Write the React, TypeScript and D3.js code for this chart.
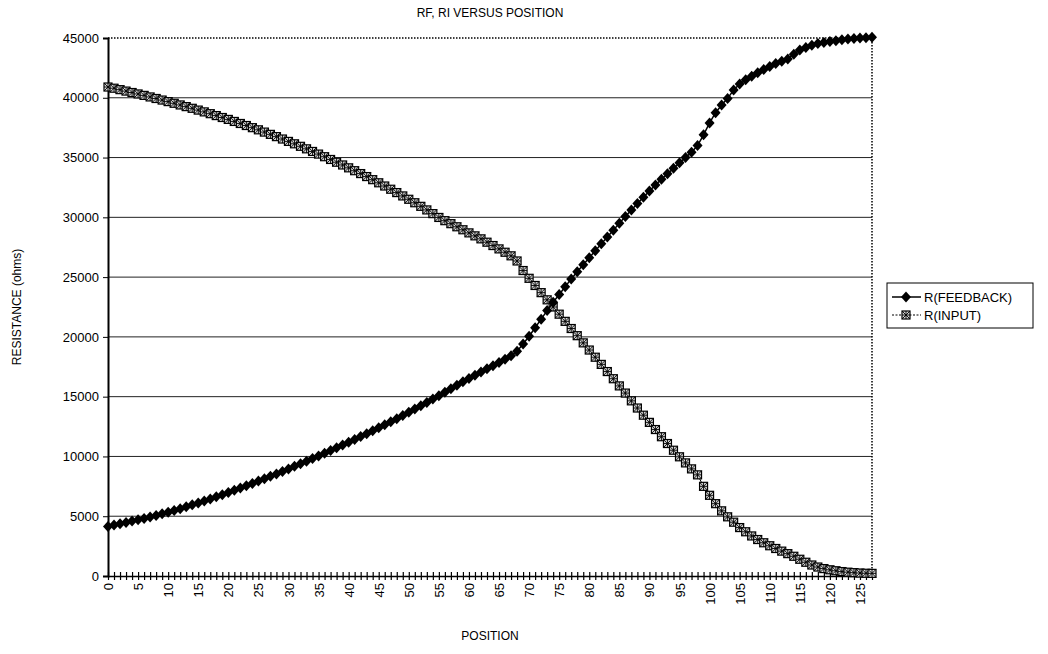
import * as React from 'react';
import * as d3 from 'd3';

const chartTitle = 'RF, RI VERSUS POSITION';
const xTitle = 'POSITION';
const yTitle = 'RESISTANCE (ohms)';
const seriesNames = ['R(FEEDBACK)', 'R(INPUT)'];
const yTicks = [0, 5000, 10000, 15000, 20000, 25000, 30000, 35000, 40000, 45000];

// R(FEEDBACK), one value per position 0..127
const feedback = [
    4150, 4260, 4370, 4480, 4590, 4700, 4810, 4940, 5070, 5200,
    5340, 5480, 5630, 5790, 5950, 6110, 6280, 6450, 6620, 6800,
    6980, 7170, 7360, 7550, 7740, 7940, 8140, 8340, 8540, 8750,
    8960, 9170, 9380, 9600, 9820, 10040, 10270, 10500, 10730, 10960,
    11190, 11420, 11660, 11900, 12150, 12400, 12650, 12900, 13150, 13420,
    13690, 13960, 14240, 14520, 14800, 15080, 15370, 15660, 15950, 16240,
    16520, 16790, 17060, 17330, 17590, 17850, 18130, 18420, 18800, 19400,
    20050, 20760, 21480, 22200, 22900, 23550, 24200, 24850, 25450, 26030,
    26620, 27200, 27780, 28360, 28920, 29500, 30070, 30620, 31150, 31680,
    32200, 32700, 33180, 33650, 34100, 34560, 35000, 35450, 36000, 36900,
    37900, 38750, 39400, 39950, 40650, 41150, 41500, 41800, 42100, 42370,
    42620, 42870, 43050, 43250, 43650, 44000, 44200, 44400, 44530, 44620,
    44700, 44780, 44850, 44910, 44960, 45000, 45030, 45060
];

// R(INPUT), one value per position 0..127
const input = [
    40900, 40800, 40680, 40560, 40440, 40320, 40200, 40070, 39940, 39810,
    39680, 39540, 39400, 39260, 39120, 38970, 38820, 38670, 38510, 38350,
    38190, 38020, 37850, 37680, 37500, 37320, 37130, 36940, 36750, 36550,
    36350, 36150, 35940, 35730, 35510, 35290, 35070, 34840, 34610, 34380,
    34140, 33900, 33660, 33410, 33150, 32890, 32620, 32350, 32070, 31790,
    31510, 31220, 30920, 30620, 30310, 29990, 29720, 29470, 29210, 28960,
    28700, 28450, 28200, 27920, 27640, 27360, 27080, 26780, 26350, 25550,
    24900, 24300, 23700, 23100, 22500, 21900, 21300, 20700, 20100, 19500,
    18900, 18300, 17700, 17100, 16500, 15900, 15300, 14650, 14050, 13450,
    12850, 12250, 11650, 11080, 10520, 9970, 9460, 8960, 8460, 7500,
    6750, 6050, 5450, 4950, 4500, 4050, 3700, 3350, 3050, 2780,
    2530, 2300, 2080, 1870, 1650, 1400, 1150, 920, 750, 620,
    520, 440, 370, 320, 280, 250, 230, 220
];

const W = 1048;
const H = 654;
const plot = { left: 108, right: 872, top: 38, bottom: 576 };
const font = '"Liberation Sans", Arial, sans-serif';

function drawDiamond(g: d3.Selection<any, any, any, any>, cx: number, cy: number) {
    g.append('path')
        .attr('d', `M${cx},${cy - 5.5}L${cx + 5},${cy}L${cx},${cy + 5.5}L${cx - 5},${cy}Z`)
        .attr('fill', '#000');
}

function drawHatch(g: d3.Selection<any, any, any, any>, cx: number, cy: number) {
    const m = g.append('g').attr('transform', `translate(${cx},${cy})`);
    m.append('rect')
        .attr('x', -4).attr('y', -4).attr('width', 8).attr('height', 8)
        .attr('fill', '#d8d8d8').attr('stroke', '#000').attr('stroke-width', 1.2);
    m.append('path')
        .attr('d', 'M-4,-4L4,4M-4,4L4,-4M0,-4V4M-4,0H4')
        .attr('stroke', '#000').attr('stroke-width', 0.9);
}

export default function App() {
    const ref = React.useRef<SVGSVGElement | null>(null);

    React.useEffect(() => {
        const svg = d3.select(ref.current);
        svg.selectAll('*').remove();

        const positions = feedback.map((_, i) => i);
        const x = d3.scaleLinear().domain([0, 127]).range([plot.left, plot.right]);
        const y = d3.scaleLinear().domain([0, 45000]).range([plot.bottom, plot.top]);

        // grid lines
        svg.append('g')
            .selectAll('line')
            .data(yTicks.filter(v => v > 0 && v < 45000))
            .enter()
            .append('line')
            .attr('x1', plot.left).attr('x2', plot.right)
            .attr('y1', d => y(d)).attr('y2', d => y(d))
            .attr('stroke', '#222').attr('stroke-width', 1);

        // dotted frame top / right
        svg.append('path')
            .attr('d', `M${plot.left},${y(45000)}H${plot.right}V${plot.bottom}`)
            .attr('fill', 'none').attr('stroke', '#000')
            .attr('stroke-width', 1.5).attr('stroke-dasharray', '1.5,1.5');

        // y axis
        const yAxis = svg.append('g')
            .attr('transform', `translate(${plot.left},0)`)
            .call(d3.axisLeft(y).tickValues(yTicks).tickSize(5).tickFormat(d3.format('d')));
        yAxis.select('.domain').attr('stroke-width', 2);
        yAxis.selectAll('text')
            .attr('font-family', font).attr('font-size', 13).attr('fill', '#000')
            .attr('x', -9);

        // x axis: tick at every position, crossing the axis line
        const xAxis = svg.append('g')
            .attr('transform', `translate(0,${plot.bottom})`)
            .call(d3.axisBottom(x).tickValues(positions).tickSize(4).tickSizeOuter(0).tickFormat(() => ''));
        xAxis.select('.domain').attr('stroke-width', 1.5);
        xAxis.selectAll('.tick line').attr('y1', -4).attr('stroke-width', 1.2);

        const xLabels = svg.append('g')
            .attr('transform', `translate(0,${plot.bottom})`)
            .call(d3.axisBottom(x).tickValues(positions.filter(p => p % 5 === 0)).tickSize(0));
        xLabels.select('.domain').remove();
        xLabels.selectAll('text')
            .attr('font-family', font).attr('font-size', 13).attr('fill', '#000')
            .attr('transform', 'rotate(-90)')
            .attr('text-anchor', 'end')
            .attr('dy', '0.35em')
            .attr('x', -7).attr('y', 0);

        // series
        const line = d3.line<number>().x((_, i) => x(i)).y(d => y(d));

        svg.append('path')
            .datum(input)
            .attr('d', line)
            .attr('fill', 'none').attr('stroke', '#000').attr('stroke-width', 1);
        const inputMarks = svg.append('g');
        input.forEach((v, i) => drawHatch(inputMarks, x(i), y(v)));

        svg.append('path')
            .datum(feedback)
            .attr('d', line)
            .attr('fill', 'none').attr('stroke', '#000').attr('stroke-width', 1.5);
        const fbMarks = svg.append('g');
        feedback.forEach((v, i) => drawDiamond(fbMarks, x(i), y(v)));

        // titles
        svg.append('text')
            .attr('x', 490).attr('y', 17).attr('text-anchor', 'middle')
            .attr('font-family', font).attr('font-size', 12).text(chartTitle);
        svg.append('text')
            .attr('x', 490).attr('y', 640).attr('text-anchor', 'middle')
            .attr('font-family', font).attr('font-size', 12).text(xTitle);
        svg.append('text')
            .attr('transform', `translate(21,${(plot.top + plot.bottom) / 2}) rotate(-90)`)
            .attr('text-anchor', 'middle')
            .attr('font-family', font).attr('font-size', 12).text(yTitle);

        // legend
        const lg = svg.append('g');
        lg.append('rect')
            .attr('x', 887).attr('y', 283).attr('width', 146).attr('height', 45)
            .attr('fill', '#fff').attr('stroke', '#000').attr('stroke-width', 1);
        const rows = [297, 315];
        rows.forEach((ry, i) => {
            lg.append('line')
                .attr('x1', 892).attr('x2', 921).attr('y1', ry).attr('y2', ry)
                .attr('stroke', '#000').attr('stroke-width', i === 0 ? 1.5 : 1)
                .attr('stroke-dasharray', i === 0 ? null : '2,1.5');
            if (i === 0) drawDiamond(lg, 906, ry);
            else drawHatch(lg, 906, ry);
            lg.append('text')
                .attr('x', 924).attr('y', ry).attr('dy', '0.36em')
                .attr('font-family', font).attr('font-size', 13).text(seriesNames[i]);
        });
    }, []);

    return <svg ref={ref} width={W} height={H}
        style={{ position: 'absolute', left: 0, top: 0, background: '#fff' }} />;
}
